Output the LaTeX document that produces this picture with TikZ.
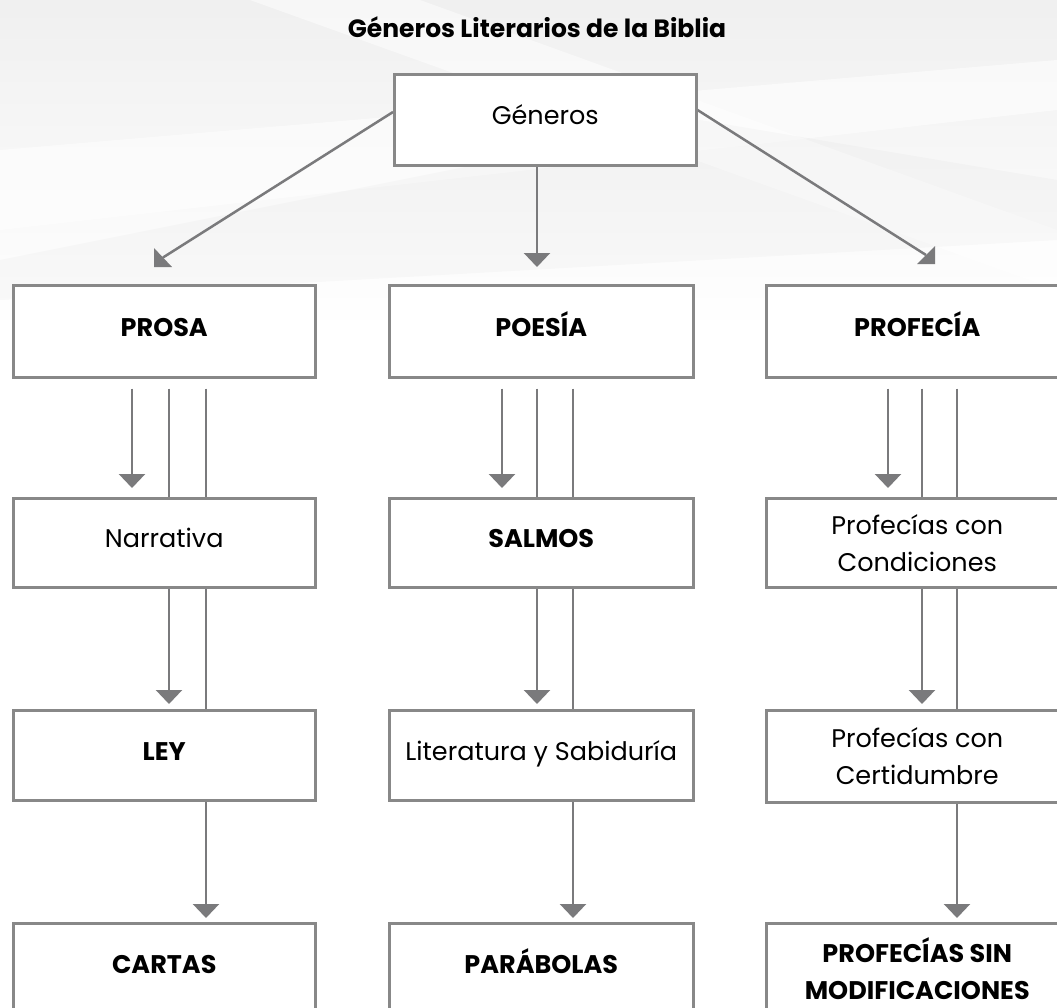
\documentclass[tikz,border=0pt]{standalone}
\usepackage{fontspec}
\setmainfont{Poppins}
\usetikzlibrary{arrows.meta,calc}
\pgfdeclarelayer{bg}
\pgfdeclarelayer{conn}
\pgfsetlayers{bg,conn,main}
\definecolor{boxgray}{HTML}{888888}
\definecolor{linegray}{HTML}{7A7A7C}
\begin{document}
\begin{tikzpicture}[x=1pt,y=-1pt,
  box/.style={draw=boxgray, line width=2.5pt, fill=white, inner sep=0pt,
    align=center, anchor=north west, font=\fontsize{25.5}{37}\selectfont},
  bbox/.style={box, font=\fontsize{25.5}{37}\selectfont\bfseries},
  oneline/.style={text height=18pt, text depth=8pt},
  ln/.style={draw=linegray, line width=2.5pt},
  arr/.style={ln, -{Triangle[width=26pt,length=14pt]}},
  headfill/.style={fill=linegray},
  title/.style={font=\fontsize{25}{30}\selectfont\bfseries, inner sep=0pt}
]
\useasboundingbox (0,0) rectangle (1057,1007);
% background
\begin{pgfonlayer}{bg}
  \fill[white] (0,0) rectangle (1057,1007);
  \shade[top color=gray!12, bottom color=white] (0,0) rectangle (1057,330);
  \fill[white, opacity=0.55] (0,150) -- (1057,60) -- (1057,110) -- (0,230) -- cycle;
  \fill[white, opacity=0.5] (250,0) -- (420,0) -- (1057,230) -- (1057,290) -- cycle;
  \fill[gray, opacity=0.04] (0,260) -- (700,120) -- (1057,180) -- (1057,240) -- (0,300) -- cycle;
\end{pgfonlayer}

\node[title] (titulo) at (537,27) {Géneros Literarios de la Biblia};

\node[box, oneline, minimum width=302pt, minimum height=91pt] (gen) at (393,73) {Géneros};

% row 1
\node[bbox, oneline, minimum width=302pt, minimum height=92pt] (prosa) at (12,284) {PROSA};
\node[bbox, oneline, minimum width=304pt, minimum height=92pt] (poesia) at (388,284) {POESÍA};
\node[bbox, oneline, minimum width=302pt, minimum height=92pt] (profecia) at (765,284) {PROFECÍA};
% row 2
\node[box, oneline, minimum width=302pt, minimum height=89pt] (narr) at (12,497) {Narrativa};
\node[bbox, oneline, minimum width=304pt, minimum height=89pt] (salmos) at (388,497) {SALMOS};
\node[box, minimum width=302pt, minimum height=89pt] (cond) at (765,497) {Profecías con\\Condiciones};
% row 3
\node[bbox, oneline, minimum width=302pt, minimum height=90pt] (ley) at (12,709) {LEY};
\node[box, oneline, minimum width=304pt, minimum height=90pt] (lit) at (388,709) {Literatura y Sabiduría};
\node[box, minimum width=302pt, minimum height=92pt] (cert) at (765,709) {Profecías con\\Certidumbre};
% row 4
\node[bbox, oneline, minimum width=302pt, minimum height=90pt] (cartas) at (12,922) {CARTAS};
\node[bbox, oneline, minimum width=304pt, minimum height=90pt] (parab) at (388,922) {PARÁBOLAS};
\node[bbox, minimum width=302pt, minimum height=91pt] (sinmod) at (765,922) {PROFECÍAS SIN\\MODIFICACIONES};

% connector x positions and free ends
\coordinate (xa1) at (132,0); \coordinate (xa2) at (169,0); \coordinate (xa3) at (206,0);
\coordinate (xb1) at (502,0); \coordinate (xb2) at (537,0); \coordinate (xb3) at (573,0);
\coordinate (xc1) at (888,0); \coordinate (xc2) at (922,0); \coordinate (xc3) at (957,0);
\coordinate (endL) at (163,257.5);
\coordinate (endR) at (926,255);

\begin{pgfonlayer}{conn}
  % from Géneros (diagonal arrows with clipped heads)
  \draw[ln] ($(gen.north west)+(0,39)$) -- (endL);
  \fill[headfill] (154,248) -- (154,267) -- (172,267) -- cycle;
  \draw[ln] ($(gen.north east)+(0,37)$) -- (endR);
  \fill[headfill] (935,246) -- (935,264) -- (917,264) -- cycle;
  \draw[arr, shorten >=17pt] (gen.south -| xb2) -- (poesia.north -| xb2);
  % PROSA column
  \draw[arr, shorten <=10pt, shorten >=9pt] (prosa.south -| xa1) -- (narr.north -| xa1);
  \draw[arr, shorten <=10pt, shorten >=5pt] (prosa.south -| xa2) -- (ley.north -| xa2);
  \draw[arr, shorten <=10pt, shorten >=4pt] (prosa.south -| xa3) -- (cartas.north -| xa3);
  % POESIA column
  \draw[arr, shorten <=10pt, shorten >=9pt] (poesia.south -| xb1) -- (salmos.north -| xb1);
  \draw[arr, shorten <=10pt, shorten >=5pt] (poesia.south -| xb2) -- (lit.north -| xb2);
  \draw[arr, shorten <=10pt, shorten >=4pt] (poesia.south -| xb3) -- (parab.north -| xb3);
  % PROFECIA column
  \draw[arr, shorten <=10pt, shorten >=9pt] (profecia.south -| xc1) -- (cond.north -| xc1);
  \draw[arr, shorten <=10pt, shorten >=5pt] (profecia.south -| xc2) -- (cert.north -| xc2);
  \draw[arr, shorten <=10pt, shorten >=4pt] (profecia.south -| xc3) -- (sinmod.north -| xc3);
\end{pgfonlayer}
\end{tikzpicture}
\end{document}
